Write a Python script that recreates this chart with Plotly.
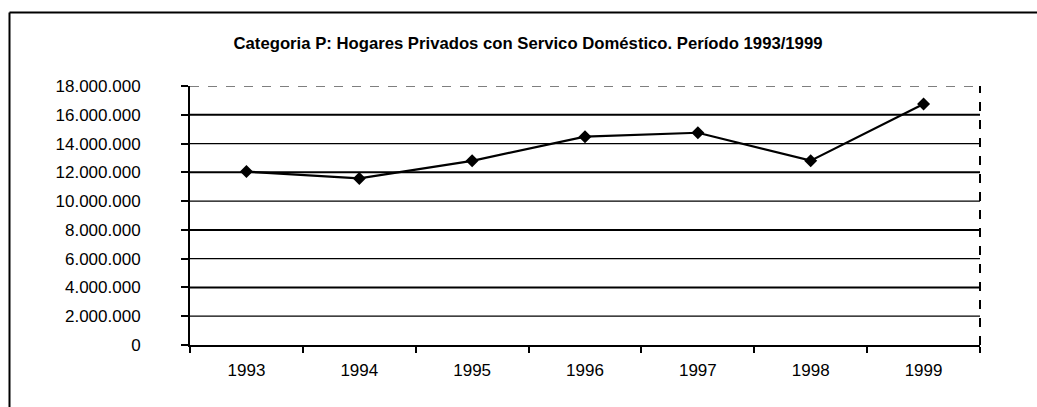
import plotly.graph_objects as go

years = ["1993", "1994", "1995", "1996", "1997", "1998", "1999"]
valores = [12050000, 11580000, 12800000, 14480000, 14750000, 12810000, 16750000]
y_ticks = [0, 2000000, 4000000, 6000000, 8000000, 10000000, 12000000, 14000000, 16000000, 18000000]
titulo = "Categoria P: Hogares Privados con Servico Doméstico. Período 1993/1999"

W, H = 1037, 407
L, R, T, B = 190, 57, 86, 62
FONT = "Liberation Sans, Arial, sans-serif"

fig = go.Figure()
fig.add_trace(go.Scatter(
    x=years, y=valores, mode="lines+markers",
    line=dict(color="black", width=2.2),
    marker=dict(symbol="diamond", size=10, color="black"),
    showlegend=False, cliponaxis=False,
))

shapes = []
for i, v in enumerate(y_ticks[1:]):
    top = v == y_ticks[-1]
    shapes.append(dict(
        type="line", xref="paper", yref="y", x0=0, x1=1, y0=v, y1=v,
        line=dict(color="black", width=1.2 if top else (2 if i % 2 == 1 else 1.2),
                  dash="dash" if top else "solid"),
        layer="below",
    ))
# right side of plot area (dashed, as in the scan)
shapes.append(dict(type="line", xref="paper", yref="paper", x0=1, x1=1, y0=0, y1=1,
                   line=dict(color="black", width=2, dash="dash")))
# outer chart frame (top and left borders, cut off at the page edge)
px = lambda x: (x - L) / (W - L - R)
py = lambda y: (H - B - y) / (H - T - B)
shapes.append(dict(type="line", xref="paper", yref="paper",
                   x0=px(9.5), x1=px(1037), y0=py(12.5), y1=py(12.5),
                   line=dict(color="black", width=2)))
shapes.append(dict(type="line", xref="paper", yref="paper",
                   x0=px(9.5), x1=px(9.5), y0=py(12.5), y1=py(407),
                   line=dict(color="black", width=2)))

fig.update_layout(
    width=W, height=H,
    margin=dict(l=L, r=R, t=T, b=B),
    paper_bgcolor="white", plot_bgcolor="white",
    separators=",.",
    font=dict(family=FONT, color="black", size=15),
    title=dict(text="<b>" + titulo + "</b>", xref="container", yref="container",
               x=528 / W, xanchor="center", y=1 - 43 / H, yanchor="middle",
               font=dict(size=16.7, family=FONT, color="black")),
    shapes=shapes,
    xaxis=dict(
        type="category", range=[-0.5, 6.5],
        showgrid=False, showline=True, linecolor="black", linewidth=2,
        ticks="outside", tickson="boundaries", ticklen=6, tickcolor="black", tickwidth=1.5,
        tickfont=dict(size=17, family=FONT), ticklabelstandoff=9,
    ),
    yaxis=dict(
        range=[0, 18000000], tickvals=y_ticks, tickformat=",d",
        showgrid=False, zeroline=False,
        showline=True, linecolor="black", linewidth=2,
        ticks="outside", ticklen=7, tickcolor="black", tickwidth=1.5,
        tickfont=dict(size=17, family=FONT), ticklabelstandoff=37,
    ),
)

fig.write_html(
    "out.html",
    config={"displayModeBar": False},
    post_script="document.body.style.margin='0';document.body.style.overflow='hidden';",
)
